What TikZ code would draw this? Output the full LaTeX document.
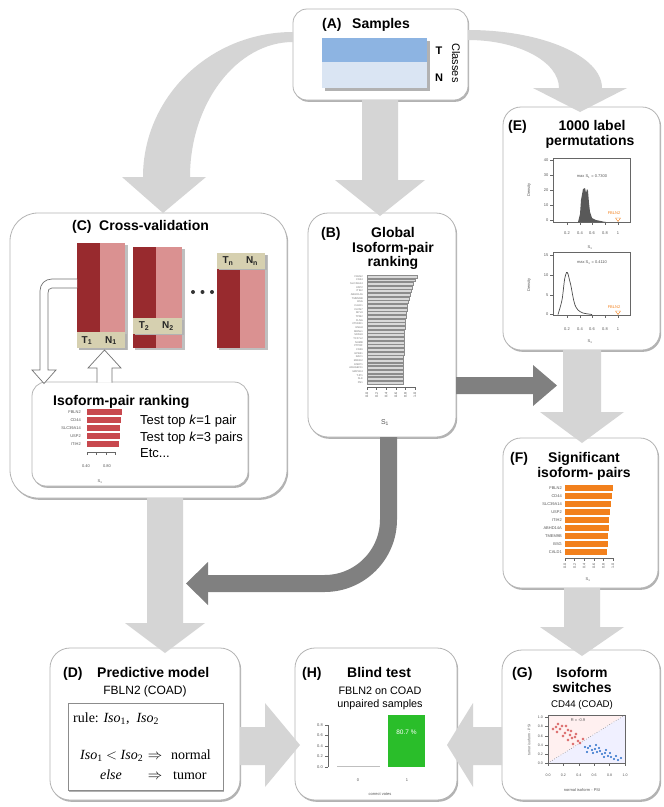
\documentclass[tikz,border=0pt]{standalone}
\usepackage{fontspec}
\setmainfont{Liberation Sans}
\newfontfamily\tnr{Liberation Serif}
\usetikzlibrary{calc,shadows}
\definecolor{lgarrow}{RGB}{213,213,213}
\definecolor{dgarrow}{RGB}{128,128,128}
\definecolor{boxline}{RGB}{180,180,180}
\definecolor{darkred}{RGB}{152,42,46}
\definecolor{lightred}{RGB}{218,145,145}
\definecolor{stripc}{RGB}{214,208,176}
\definecolor{barred}{RGB}{200,72,78}
\definecolor{blueT}{RGB}{141,180,226}
\definecolor{blueN}{RGB}{218,229,243}
\definecolor{orbar}{RGB}{242,128,28}
\definecolor{grn}{RGB}{42,190,42}
\definecolor{txtgrey}{RGB}{85,85,85}
\definecolor{ptblue}{RGB}{40,110,200}
\definecolor{ptred}{RGB}{205,50,50}
\tikzset{
  panel/.style={draw=boxline, line width=0.8pt, fill=white, rounded corners=#1,
    inner sep=0pt, outer sep=0pt, anchor=north west,
    drop shadow={shadow xshift=1.2pt, shadow yshift=-1.8pt, opacity=0.3, fill=black}},
  ttl/.style={font=\fontsize{14}{16}\selectfont\bfseries, inner sep=0pt},
  tinyt/.style={font=\fontsize{4}{5}\selectfont, text=txtgrey, inner sep=0pt},
  foldlab/.style={font=\fontsize{10}{11}\selectfont\bfseries, text=black!85, inner sep=0pt},
  rulet/.style={font=\tnr\fontsize{14}{16}\selectfont, inner sep=0pt, anchor=base west},
  axl/.style={black!60, line width=0.35pt},
}
\begin{document}
\begin{tikzpicture}[x=1pt,y=-1pt]
\useasboundingbox (0,0) rectangle (664,807);
\fill[white] (0,0) rectangle (664,807);

%================ panels
\node[panel=14pt, minimum width=175pt, minimum height=91pt] (A) at (293,9) {};
\node[panel=18pt, minimum width=157pt, minimum height=243pt] (E) at (503,107) {};
\node[panel=28pt, minimum width=277pt, minimum height=285pt] (C) at (10,213) {};
\node[panel=20pt, minimum width=148pt, minimum height=224pt] (B) at (308,213) {};
\node[panel=18pt, minimum width=155pt, minimum height=150pt] (F) at (503,438) {};
\node[panel=20pt, minimum width=190pt, minimum height=152pt] (D) at (50,648) {};
\node[panel=20pt, minimum width=162pt, minimum height=152pt] (H) at (295,648) {};
\node[panel=20pt, minimum width=158pt, minimum height=150pt] (G) at (502,650) {};

%================ big arrows
% A -> C (curved)
\fill[lgarrow] (293,32) .. controls (210,32) and (143,97) .. (143,177)
  -- (122,177) -- (163,213) -- (206,177) -- (190,177)
  .. controls (190,103) and (237,42) .. (293,42) -- cycle;
% A -> B
\fill[lgarrow] (362,100) -- (362,180) -- (335,180) -- (380,216) -- (425,180) -- (398,180) -- (398,100) -- cycle;
% A -> E (curved)
\fill[lgarrow] (468,30) .. controls (542,30) and (602,56) .. (602,88)
  -- (627,88) -- (580,112) -- (533,88) -- (559,88)
  .. controls (559,62) and (519,40) .. (468,40) -- cycle;
% E -> F
\fill[lgarrow] (563,350) -- (563,412) -- (540,412) -- (582,443) -- (624,412) -- (601,412) -- (601,350) -- cycle;
% F -> G
\fill[lgarrow] (564,588) -- (564,627) -- (540,627) -- (582,656) -- (624,627) -- (600,627) -- (600,588) -- cycle;
% C -> D
\fill[lgarrow] (147,498) -- (147,623) -- (125,623) -- (165,653) -- (205,623) -- (183,623) -- (183,498) -- cycle;
% D -> H
\fill[lgarrow] (240,727) -- (265,727) -- (265,703) -- (300,745) -- (265,787) -- (265,765) -- (240,765) -- cycle;
% G -> H
\fill[lgarrow] (502,727) -- (473,727) -- (473,703) -- (447,745) -- (473,787) -- (473,765) -- (502,765) -- cycle;
% B -> D (dark)
\draw[dgarrow, line width=17pt, rounded corners=64pt] (388.5,437) -- (388.5,583.5) -- (207,583.5);
\fill[dgarrow] (208,562) -- (186,583.5) -- (208,605) -- cycle;
% B -> F (dark)
\fill[dgarrow] (456,377) -- (533,377) -- (533,365) -- (557,385.5) -- (533,406) -- (533,394) -- (456,394) -- cycle;

%================ (A) Samples
\node[ttl, anchor=base west] (Alab) at (322,28) {(A)};
\node[ttl, anchor=base west] (Attl) at (352,28) {Samples};
\fill[black!30] (324.5,40.5) rectangle (429.5,90.5);
\fill[blueT] (322,38) rectangle (427,62);
\fill[blueN] (322,62) rectangle (427,88);
\node[font=\fontsize{11}{12}\selectfont\bfseries, inner sep=0pt] (AT) at (439,51) {T};
\node[font=\fontsize{11}{12}\selectfont\bfseries, inner sep=0pt] (AN) at (439,77.5) {N};
\node[font=\fontsize{11}{12}\selectfont, rotate=-90, inner sep=0pt] (Acl) at (456,63) {Classes};

%================ (C) Cross-validation
\node[ttl, anchor=base west] (Clab) at (72,230) {(C)};
\node[ttl, anchor=base west] (Cttl) at (99,230) {Cross-validation};
% fold 1
\fill[black!25] (79,245) rectangle (127.5,350);
\fill[darkred] (77,243) rectangle (100,348);
\fill[lightred] (100,243) rectangle (125,348);
\fill[black!30] (78.5,333.5) rectangle (126.5,349.5);
\fill[stripc] (77,332) rectangle (125,348);
\node[foldlab] (t1) at (87,340.5) {T\textsubscript{1}};
\node[foldlab] (n1) at (111,340.5) {N\textsubscript{1}};
% fold 2
\fill[black!25] (135,249) rectangle (184.5,350);
\fill[darkred] (133,247) rectangle (156,348);
\fill[lightred] (156,247) rectangle (182,348);
\fill[black!30] (134.5,319.5) rectangle (183.5,335);
\fill[stripc] (133,318) rectangle (182,333.5);
\node[foldlab] (t2) at (144,326) {T\textsubscript{2}};
\node[foldlab] (n2) at (168,326) {N\textsubscript{2}};
% dots
\fill[black!80] (193,292) circle (2pt) (202.5,292) circle (2pt) (212,292) circle (2pt);
% fold n
\fill[black!25] (219,255) rectangle (267.5,350);
\fill[darkred] (217,253) rectangle (240,348);
\fill[lightred] (240,253) rectangle (265,348);
\fill[black!30] (218.5,254.5) rectangle (266.5,270);
\fill[stripc] (217,253) rectangle (265,268.5);
\node[foldlab] (tn) at (228,261) {T\textsubscript{n}};
\node[foldlab] (nn) at (252,261) {N\textsubscript{n}};
% inner ranking box
\node[panel=14pt, minimum width=216pt, minimum height=104pt] (Cin) at (32,382) {};
% hollow arrows
\filldraw[fill=white, draw=black!55, line width=0.7pt] (77,279) -- (52,279)
  .. controls (45,279) and (40,284) .. (40,291) -- (40,370) -- (32,370) -- (44,383.5) -- (56,370) -- (48,370)
  -- (48,293) .. controls (48,290) and (49,288) .. (52,288) -- (77,288);
\filldraw[fill=white, draw=black!55, line width=0.7pt] (97,382.5) -- (97,368) -- (88,368) -- (104.5,350) -- (121,368) -- (112,368) -- (112,382.5);
\node[ttl, anchor=base west] (Cinttl) at (53,405) {Isoform-pair ranking};
\foreach \i/\n/\L in {0/FBLN2/35,1/CD44/34,2/SLC39A14/33,3/USP2/32.5,4/ITIH2/31.5} {
  \fill[barred] (87,{408.75+8*\i}) rectangle ++(\L,6.5);
  \node[tinyt, anchor=east] (cl\i) at (81,{412+8*\i}) {\n};
}
\draw[axl] (87,452) -- (116,452);
\foreach \xx in {87,96.5,106,115.5} {\draw[axl] (\xx,452) -- (\xx,455);}
\node[tinyt] (cx1) at (86,466) {0.40};
\node[tinyt] (cx2) at (107,466) {0.80};
\node[tinyt] (cs) at (100,482) {S\textsubscript{1}};
\node[font=\fontsize{13}{15}\selectfont, inner sep=0pt, anchor=base west] (k1) at (140,424.5) {Test top \textit{k}=1 pair};
\node[font=\fontsize{13}{15}\selectfont, inner sep=0pt, anchor=base west] (k3) at (140,441) {Test top \textit{k}=3 pairs};
\node[font=\fontsize{13}{15}\selectfont, inner sep=0pt, anchor=base west] (ketc) at (140,457.5) {Etc...};

%================ (B) Global isoform-pair ranking
\node[ttl, anchor=base west] (Blab) at (321,237) {(B)};
\node[ttl, anchor=base] (Bt1) at (393,237) {Global};
\node[ttl, anchor=base] (Bt2) at (393,252) {Isoform-pair};
\node[ttl, anchor=base] (Bt3) at (393,266.5) {ranking};
\foreach \i/\n in {0/FBLN2,1/CD44,2/SLC39A14,3/USP2,4/ITIH2,5/ABHD14A,6/TMEM9B,7/BSG,8/CALD1,9/CLDN7,
  10/MYL9,11/TPM2,12/FLNA,13/CTNND1,14/ENAH,15/MBNL1,16/SPAG9,17/TCF7L2,18/NUMB,19/PTPRF,
  20/CD46,21/EPB41,22/RAC1,23/MKNK2,24/ESRP1,25/ARHGEF11,26/MAP4K4,27/TJP1,28/SLK,29/FN1} {
  \pgfmathsetmacro{\len}{36+14*exp(-\i/7)}
  \filldraw[fill=black!15, draw=black!45, line width=0.3pt] (367,{275+3.66*\i}) rectangle ++(\len,2.8);
  \node[font=\fontsize{2.6}{3}\selectfont, text=black!55, anchor=east, inner sep=0pt] (bl\i) at (363,{276.4+3.66*\i}) {\n};
}
\draw[axl] (367,387) -- (415,387);
\foreach \v [count=\k from 0] in {0.0,0.2,0.4,0.6,0.8,1.0} {
  \draw[axl] ({367+9.6*\k},387) -- ({367+9.6*\k},390);
  \node[font=\fontsize{3.6}{4}\selectfont, text=txtgrey, rotate=90, anchor=east, inner sep=0pt] (bx\k) at ({367+9.6*\k},392) {\v};
}
\node[font=\fontsize{7}{8}\selectfont, text=txtgrey, inner sep=0pt] (bs) at (385,423) {S\textsubscript{1}};

%================ (E) 1000 label permutations
\node[ttl, anchor=base west] (Elab) at (508,130) {(E)};
\node[ttl, anchor=base] (Et1) at (592,130) {1000 label};
\node[ttl, anchor=base] (Et2) at (590,145) {permutations};
% plot 1
\draw[axl] (553,158) rectangle (630,222);
\foreach \v/\yy [count=\k] in {40/160,30/175,20/190,10/205,0/220} {
  \draw[axl] (553,\yy) -- (550,\yy);
  \node[tinyt, anchor=east] (ea\k) at (548.5,\yy) {\v};
}
\node[tinyt, rotate=90] (ed1) at (529,190) {Density};
\node[tinyt] (em1) at (592,177) {max S\textsubscript{1} = 0.7300};
\fill[black!65] (578,222) -- (580,214) -- (581,200) -- (583,189) -- (585,188) -- (586,193) -- (587,189)
  -- (588,191) -- (589,203) -- (590,212) -- (592,218) -- (596,220) -- (603,221.5) -- (606,222) -- cycle;
\node[tinyt, text=orbar] (ef1) at (614,213) {FBLN2};
\draw[orbar, line width=0.4pt] (615.5,218) -- (620.5,218) -- (618,221.5) -- cycle;
\foreach \v/\xx [count=\k] in {0.2/567,0.4/580,0.6/592,0.8/605,1/618} {
  \draw[axl] (\xx,222) -- (\xx,225);
  \node[tinyt] (eb\k) at (\xx,233) {\v};
}
\node[tinyt] (es1) at (590,248) {S\textsubscript{1}};
% plot 2
\draw[axl] (553,252) rectangle (630,315);
\foreach \v/\yy [count=\k] in {15/255,10/275,5/295,0/314} {
  \draw[axl] (553,\yy) -- (550,\yy);
  \node[tinyt, anchor=east] (ec\k) at (548.5,\yy) {\v};
}
\node[tinyt, rotate=90] (ed2) at (529,285) {Density};
\node[tinyt] (em2) at (592,263) {max S\textsubscript{1} = 0.4110};
\draw[black!70, line width=0.7pt] plot[smooth, tension=0.5] coordinates {(558,314.5) (562,300) (564.5,280) (566.5,272.5) (568,274) (569.5,280) (571,286) (573,297) (575,305) (578,310) (583,313) (592,314.5)};
\node[tinyt, text=orbar] (ef2) at (614,307) {FBLN2};
\draw[orbar, line width=0.4pt] (615.5,311) -- (620.5,311) -- (618,314.5) -- cycle;
\foreach \v/\xx [count=\k] in {0.2/567,0.4/580,0.6/592,0.8/605,1/618} {
  \draw[axl] (\xx,315) -- (\xx,318);
  \node[tinyt] (ee\k) at (\xx,329) {\v};
}
\node[tinyt] (es2) at (590,342) {S\textsubscript{1}};

%================ (F) Significant isoform-pairs
\node[ttl, anchor=base west] (Flab) at (510,462) {(F)};
\node[ttl, anchor=base] (Ft1) at (584,462) {Significant};
\node[ttl, anchor=base] (Ft2) at (584,477) {isoform- pairs};
\foreach \i/\n/\L in {0/FBLN2/48,1/CD44/47,2/SLC39A14/45.5,3/USP2/45,4/ITIH2/44,5/ABHD14A/43.5,6/TMEM9B/43,7/BSG/43,8/CALD1/42} {
  \fill[orbar] (565,{484.75+8*\i}) rectangle ++(\L,6.5);
  \node[tinyt, anchor=east] (fl\i) at (562,{488+8*\i}) {\n};
}
\draw[axl] (565,558) -- (613,558);
\foreach \v [count=\k from 0] in {0.0,0.2,0.4,0.6,0.8,1.0} {
  \draw[axl] ({565+9.6*\k},558) -- ({565+9.6*\k},561);
  \node[font=\fontsize{3.6}{4}\selectfont, text=txtgrey, rotate=90, anchor=east, inner sep=0pt] (fx\k) at ({565+9.6*\k},563) {\v};
}
\node[tinyt] (fs) at (588,580) {S\textsubscript{1}};

%================ (D) Predictive model
\node[ttl, anchor=base west] (Dlab) at (63,677) {(D)};
\node[ttl, anchor=base west] (Dttl) at (97,677) {Predictive model};
\node[font=\fontsize{12}{14}\selectfont, inner sep=0pt, anchor=base] (Dsub) at (145,694) {FBLN2 (COAD)};
\node[draw=black!45, line width=0.6pt, fill=white, minimum width=155pt, minimum height=87pt, anchor=north west,
  inner sep=0pt, drop shadow={shadow xshift=1pt, shadow yshift=-1.5pt, opacity=0.3, fill=black}] (Drule) at (68,703) {};
\node[rulet] (r1) at (73,722) {rule: \textit{Iso}\textsubscript{1}, \ \textit{Iso}\textsubscript{2}};
\node[rulet] (r2) at (80,759) {\textit{Iso}\textsubscript{1} \ensuremath{<} \textit{Iso}\textsubscript{2}};
\node[rulet, anchor=base] (r2a) at (155,759) {$\Rightarrow$};
\node[rulet] (r2b) at (171,759) {normal};
\node[rulet, anchor=base] (r3) at (111,779) {\textit{else}};
\node[rulet, anchor=base] (r3a) at (155,779) {$\Rightarrow$};
\node[rulet] (r3b) at (173,779) {tumor};

%================ (H) Blind test
\node[ttl, anchor=base west] (Hlab) at (302,677) {(H)};
\node[ttl, anchor=base west] (Httl) at (347,677) {Blind test};
\node[font=\fontsize{10.8}{12}\selectfont, inner sep=0pt, anchor=base] (Hs1) at (380,694) {FBLN2 on COAD};
\node[font=\fontsize{10.8}{12}\selectfont, inner sep=0pt, anchor=base] (Hs2) at (380,707) {unpaired samples};
\draw[axl] (328,725) -- (328,767);
\foreach \v/\yy [count=\k] in {0.8/725,0.6/735.5,0.4/746,0.2/756.5,0.0/767} {
  \draw[axl] (325,\yy) -- (328,\yy);
  \node[tinyt, anchor=east] (hy\k) at (323,\yy) {\v};
}
\draw[black!25, line width=1pt] (337,766.5) -- (380,766.5);
\fill[grn] (388,715) rectangle (425,767);
\node[font=\fontsize{6.5}{7}\selectfont, text=white, inner sep=0pt] (h80) at (406.5,732) {80.7 \%};
\node[tinyt] (hx0) at (358,780) {0};
\node[tinyt] (hx1) at (407,780) {1};
\node[tinyt] (hcv) at (380,794) {correct votes};

%================ (G) Isoform switches
\node[ttl, anchor=base west] (Glab) at (512,677) {(G)};
\node[ttl, anchor=base] (Gt1) at (582,677) {Isoform};
\node[ttl, anchor=base] (Gt2) at (582,692) {switches};
\node[font=\fontsize{9.7}{11}\selectfont, inner sep=0pt, anchor=base] (Gsub) at (582,707) {CD44 (COAD)};
\fill[red!6] (548,715) -- (625,715) -- (548,763) -- cycle;
\fill[blue!6] (625,715) -- (625,763) -- (548,763) -- cycle;
\draw[axl] (548,715) rectangle (625,763);
\draw[black!60, dotted, line width=0.5pt] (548,763) -- (625,715);
\foreach \v/\yy [count=\k] in {1.0/717,0.8/726,0.6/736,0.4/745,0.2/754,0.0/763} {
  \draw[axl] (548,\yy) -- (545,\yy);
  \node[font=\fontsize{3.6}{4}\selectfont, text=txtgrey, anchor=east, inner sep=0pt] (gy\k) at (543,\yy) {\v};
}
\foreach \v/\xx [count=\k] in {0.0/548,0.2/563.4,0.4/578.8,0.6/594.2,0.8/609.6,1.0/625} {
  \draw[axl] (\xx,763) -- (\xx,766);
  \node[font=\fontsize{3.6}{4}\selectfont, text=txtgrey, inner sep=0pt] (gx\k) at (\xx,775) {\v};
}
\node[font=\fontsize{3.6}{4}\selectfont, text=txtgrey, rotate=90, inner sep=0pt] (gyl) at (529,740) {tumor isoform - PSI};
\node[tinyt] (gxl) at (582,790) {normal isoform - PSI};
\node[tinyt] (gR) at (578,720) {R = -0.9};
\foreach \px/\py in {556/727,558/724,560/729,562/726,557/732,565/733,568/730,570/735,572/738,575/737,568/740,578/741,580/743,573/744,563/736,566/726,571/731,576/734,583/739,553/729} {
  \draw[ptred, line width=0.35pt] (\px,\py) circle (1.1pt);
}
\foreach \px/\py in {585/747,588/748,590/746,592/750,595/749,597/752,600/751,602/754,605/753,608/756,611/757,614/759,618/760,621/758,593/753,599/748,604/757,587/752,596/745,606/750,610/753,616/756} {
  \fill[ptblue] (\px,\py) circle (1.1pt);
}
\end{tikzpicture}
\end{document}
